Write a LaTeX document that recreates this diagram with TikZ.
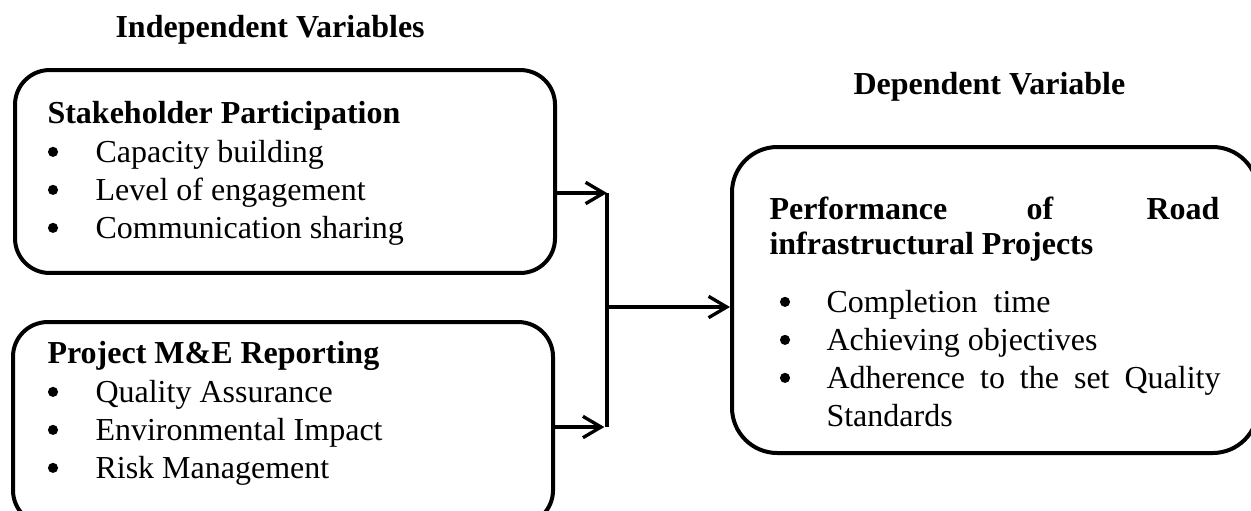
\documentclass[tikz,border=0pt]{standalone}
\usepackage{fontspec}
\setmainfont{Liberation Serif}
\usetikzlibrary{arrows.meta}

\begin{document}
\begin{tikzpicture}[x=0.375pt,y=-0.375pt,
    box/.style={draw,line width=1.5pt,rounded corners=13pt},
    txt/.style={anchor=base west,inner sep=0pt,font=\fontsize{12pt}{14pt}\selectfont},
    head/.style={txt,font=\fontsize{12pt}{14pt}\selectfont\bfseries},
    dot/.style={circle,fill,inner sep=0pt,minimum size=3.8pt,yshift=3.8pt},
    arr/.style={line width=1.25pt,-{Straight Barb[length=6.8pt,width=8pt,line width=1.25pt]}}]
  \clip (0,0) rectangle (1251,510);
  \useasboundingbox (0,0) rectangle (1251,510);

  \node[box,minimum width=202.5pt,minimum height=76.1pt] (sp) at (285,171.5) {};
  \node[box,minimum width=202.5pt,minimum height=76.1pt] (me) at (283,423.5) {};
  \node[box,rounded corners=17pt,minimum width=197.25pt,minimum height=114.75pt] (rp) at (995,300) {};

  \coordinate (j1) at (607,193);
  \coordinate (j2) at (607,427);
  \coordinate (jm) at (607,307);

  \draw[arr] (sp.east |- j1) -- (j1);
  \draw[arr] (me.east |- j2) -- ([xshift=-1pt]j2);
  \draw[line width=1.25pt] (j1) -- (j2);
  \draw[arr,line width=1.6pt] (jm) -- (rp.west |- jm);

  \node[head] (ti) at (115,37) {Independent Variables};
  \node[head] (td) at (853,94) {Dependent Variable};

  % stakeholder box
  \node[head] (h1) at (47,123) {Stakeholder Participation};
  \node[dot] (b11) at (53,162) {};
  \node[txt] (t11) at (95,162) {Capacity building};
  \node[dot] (b12) at (53,200) {};
  \node[txt] (t12) at (95,200) {Level of engagement};
  \node[dot] (b13) at (53,238) {};
  \node[txt] (t13) at (95,238) {Communication sharing};

  % M&E box
  \node[head] (h2) at (47,363) {Project M\&E Reporting};
  \node[dot] (b21) at (53,402) {};
  \node[txt] (t21) at (95,402) {Quality Assurance};
  \node[dot] (b22) at (53,440) {};
  \node[txt] (t22) at (95,440) {Environmental Impact};
  \node[dot] (b23) at (53,478) {};
  \node[txt] (t23) at (95,478) {Risk Management};

  % performance box
  \node[head] (h3a) at (769,219) {Performance};
  \node[head,anchor=base] (h3b) at (1040,219) {of};
  \node[head,anchor=base east] (h3c) at (1220,219) {Road};
  \node[head] (h3d) at (769,254) {infrastructural Projects};
  \node[dot] (b31) at (785,312) {};
  \node[txt] (t31) at (826,312) {Completion\ \ time};
  \node[dot] (b32) at (785,350) {};
  \node[txt] (t32) at (826,350) {Achieving objectives};
  \node[dot] (b33) at (785,388) {};
  \node[txt] (t33) at (826,388) {\makebox[147.75pt][s]{Adherence to the set Quality}};
  \node[txt] (t34) at (826,426) {Standards};
\end{tikzpicture}
\end{document}
